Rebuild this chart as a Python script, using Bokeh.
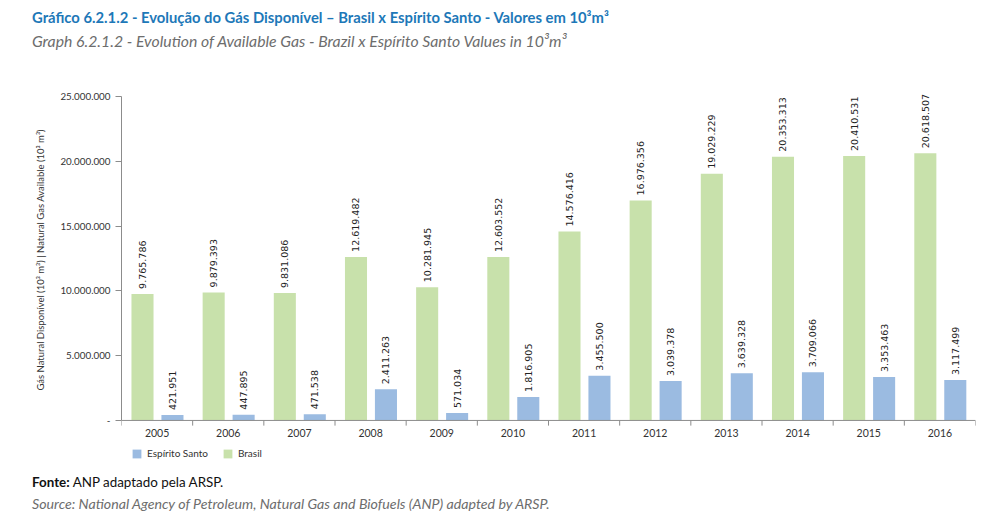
import math
from bokeh.plotting import figure
from bokeh.models import (ColumnDataSource, FactorRange, Range1d, FixedTicker, LinearAxis,
                          Legend, LegendItem, Div, Span)
from bokeh.transform import dodge
from bokeh.layouts import column
from bokeh.core.properties import value
from bokeh.embed import file_html
from bokeh.resources import INLINE

years = ["2005", "2006", "2007", "2008", "2009", "2010", "2011", "2012", "2013", "2014", "2015", "2016"]
brasil = [9765786, 9879393, 9831086, 12619482, 10281945, 12603552, 14576416, 16976356,
          19029229, 20353313, 20410531, 20618507]
espirito_santo = [421951, 447895, 471538, 2411263, 571034, 1816905, 3455500, 3039378,
                  3639328, 3709066, 3353463, 3117499]
y_ticks = [0, 5000000, 10000000, 15000000, 20000000, 25000000]
y_tick_labels = ["-", "5.000.000", "10.000.000", "15.000.000", "20.000.000", "25.000.000"]


def fmt(v):
    return f"{v:,}".replace(",", ".")


src = ColumnDataSource(dict(
    year=years, brasil=brasil, es=espirito_santo,
    brasil_lbl=[fmt(v) for v in brasil], es_lbl=[fmt(v) for v in espirito_santo],
))
last_src = ColumnDataSource(dict(year=years[-1:]))

GREEN = "#c8e1ab"
BLUE = "#9bbbe1"
AXIS = "#8c8c8c"
TICK_LEN = 400000  # ~5px tick below the baseline

p = figure(width=990, height=394, x_range=FactorRange(*years, range_padding=0),
           y_range=Range1d(-3400000, 26000000), output_backend="svg", toolbar_location=None,
           min_border_left=121, min_border_right=15, min_border_top=11, min_border_bottom=2,
           x_axis_location=None, y_axis_location=None)
p.outline_line_color = None
p.grid.grid_line_color = None
p.background_fill_color = "white"
p.border_fill_color = "white"

rg = p.vbar(x=dodge("year", -0.205, range=p.x_range), top="brasil", width=0.31, source=src,
            fill_color=GREEN, line_color=None)
rb = p.vbar(x=dodge("year", 0.216, range=p.x_range), top="es", width=0.31, source=src,
            fill_color=BLUE, line_color=None)

p.text(x=dodge("year", -0.205, range=p.x_range), y="brasil", text="brasil_lbl", source=src,
       angle=math.pi / 2, text_align="left", text_baseline="middle", y_offset=-5,
       text_font=value("DejaVu Sans"), text_font_size="9.5px", text_color="#222222")
p.text(x=dodge("year", 0.216, range=p.x_range), y="es", text="es_lbl", source=src,
       angle=math.pi / 2, text_align="left", text_baseline="middle", y_offset=-5,
       text_font=value("DejaVu Sans"), text_font_size="9.5px", text_color="#222222")

# x baseline, category-boundary ticks and year labels
p.add_layout(Span(location=0, dimension="width", line_color=AXIS, line_width=1))
p.segment(x0=dodge("year", -0.5, range=p.x_range), y0=0,
          x1=dodge("year", -0.5, range=p.x_range), y1=-TICK_LEN,
          source=src, line_color=AXIS, line_width=1)
p.segment(x0=dodge("year", 0.5, range=p.x_range), y0=0,
          x1=dodge("year", 0.5, range=p.x_range), y1=-TICK_LEN,
          source=last_src, line_color=AXIS, line_width=1)
p.text(x="year", y=0, text="year", source=src, y_offset=13, text_align="center",
       text_baseline="middle", text_font=value("Lato"), text_font_size="10.5px",
       text_color="#333333")

# y axis
yax = LinearAxis(ticker=FixedTicker(ticks=y_ticks), bounds=(0, 25000000))
yax.major_label_overrides = {t: l for t, l in zip(y_ticks, y_tick_labels)}
yax.axis_line_color = AXIS
yax.major_tick_line_color = AXIS
yax.major_tick_in = 0
yax.major_tick_out = 6
yax.minor_tick_line_color = None
yax.major_label_text_font = "Lato"
yax.major_label_text_font_size = "9.8px"
yax.major_label_text_color = "#333333"
yax.major_label_standoff = 5
yax.axis_label = ("\u2003" * 5 +
                  "Gás Natural Disponível (10³ m³)  |  Natural Gas  Available (10³ m³)")
yax.axis_label_text_font = "Lato"
yax.axis_label_text_font_style = "normal"
yax.axis_label_text_font_size = "9.5px"
yax.axis_label_text_color = "#333333"
yax.axis_label_standoff = 11
p.add_layout(yax, "left")

legend = Legend(items=[LegendItem(label="Espírito Santo", renderers=[rb]),
                       LegendItem(label="Brasil", renderers=[rg])],
                orientation="horizontal", location=(10, 5),
                glyph_width=11, glyph_height=11, label_text_font="Lato",
                label_text_font_size="10px", label_text_color="#333333",
                border_line_color=None, background_fill_alpha=0, padding=0,
                spacing=14, label_standoff=5, margin=0)
p.add_layout(legend, "center")

title = Div(width=982, height=62, text=(
    '<div style="font-family: Lato; margin:0; padding:0 0 0 27px; line-height:23px;">'
    '<div style="font-weight:bold; color:#1d78b8; font-size:14.8px; padding-top:1px;">'
    'Gráfico 6.2.1.2 - Evolução do Gás Disponível – Brasil x Espírito Santo - Valores em 10³m³</div>'
    '<div style="font-style:italic; color:#6d6d6d; font-size:15.8px;">'
    'Graph 6.2.1.2 - Evolution of Available Gas - Brazil x Espírito Santo Values in 10³m³</div>'
    '</div>'))

footer = Div(width=982, height=42, text=(
    '<div style="font-family: Lato; margin:0; padding:0 0 0 27px; line-height:22px;">'
    '<div style="color:#111111; font-size:13.4px;"><b>Fonte:</b> ANP adaptado pela ARSP.</div>'
    '<div style="font-style:italic; color:#6d6d6d; font-size:14.2px;">'
    'Source: National Agency of Petroleum, Natural Gas and Biofuels (ANP) adapted by ARSP.</div>'
    '</div>'))

layout = column(title, p, footer)
open("out.html", "w").write(file_html(layout, INLINE))
